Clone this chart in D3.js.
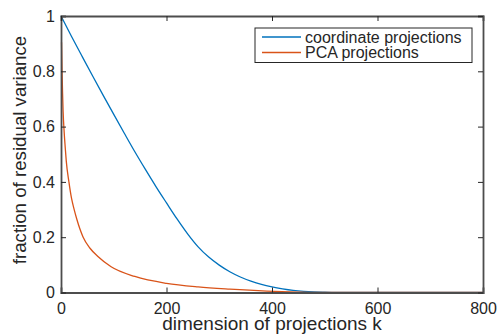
<!DOCTYPE html>
<html>
<head>
<meta charset="utf-8">
<script src="https://cdn.jsdelivr.net/npm/d3@7"></script>
<style>
  body { margin: 0; background: #fff; }
  text { font-family: "Liberation Sans", Arial, sans-serif; fill: #262626; }
</style>
</head>
<body>
<div id="chart"></div>
<script>
// dimension k and residual variance for each method
var coordK = [0, 20, 40, 60, 80, 100, 120, 140, 160, 180, 200, 220, 240, 260, 280, 300, 320, 340, 360, 380, 400, 420, 440, 460, 480, 500, 520, 540, 600, 700, 800];
var coordVar = [1.0, 0.926, 0.854, 0.783, 0.713, 0.644, 0.576, 0.509, 0.445, 0.383, 0.324, 0.266, 0.212, 0.165, 0.128, 0.099, 0.075, 0.056, 0.041, 0.029, 0.02, 0.013, 0.0075, 0.004, 0.002, 0.001, 0.0003, 0, 0, 0, 0];

var pcaK = [1, 2, 3, 4, 6, 8, 10, 15, 20, 25, 30, 42, 55, 70, 95, 140, 200, 260, 320, 390, 450, 500, 600, 700, 800];
var pcaVar = [0.905, 0.80, 0.72, 0.655, 0.58, 0.525, 0.475, 0.40, 0.34, 0.30, 0.265, 0.20, 0.16, 0.13, 0.093, 0.058, 0.033, 0.02, 0.012, 0.005, 0.0015, 0, 0, 0, 0];

var xTicks = [0, 200, 400, 600, 800];
var yTicks = [0, 0.2, 0.4, 0.6, 0.8, 1];
var seriesNames = ["coordinate projections", "PCA projections"];
var seriesColors = ["#0072BD", "#D95319"];

var svgWidth = 499, svgHeight = 334;
var margin = {top: 16, right: 16, bottom: 42, left: 61};
var width = 483 - margin.left;
var height = 292.5 - margin.top;

var svg = d3.select("#chart").append("svg")
  .attr("width", svgWidth)
  .attr("height", svgHeight);

var g = svg.append("g")
  .attr("transform", `translate(${margin.left}, ${margin.top})`);

var x = d3.scaleLinear().domain([0, 800]).range([0, width]);
var y = d3.scaleLinear().domain([0, 1]).range([height, 0]);

// curves
var line = d3.line()
  .x(d => x(d[0]))
  .y(d => y(d[1]))
  .curve(d3.curveMonotoneX);

var series = [
  d3.zip(coordK, coordVar),
  d3.zip(pcaK, pcaVar)
];

g.selectAll("path.curve")
  .data(series)
  .enter()
  .append("path")
  .attr("class", "curve")
  .attr("d", line)
  .attr("fill", "none")
  .attr("stroke", (d, i) => seriesColors[i])
  .attr("stroke-width", 1.3);

// axes, matlab style box with inward ticks
var axisColor = "#4d4d4d";
var fmt = d => d3.format("~g")(d);

var xAxisBottom = g.append("g")
  .attr("transform", `translate(0, ${height})`)
  .call(d3.axisBottom(x).tickValues(xTicks).tickSize(-5).tickPadding(10).tickFormat(fmt));
var yAxisLeft = g.append("g")
  .call(d3.axisLeft(y).tickValues(yTicks).tickSize(-5).tickPadding(6).tickFormat(fmt));
var xAxisTop = g.append("g")
  .call(d3.axisTop(x).tickValues(xTicks).tickSize(-5).tickFormat(""));
var yAxisRight = g.append("g")
  .attr("transform", `translate(${width}, 0)`)
  .call(d3.axisRight(y).tickValues(yTicks).tickSize(-5).tickFormat(""));

[xAxisBottom, yAxisLeft, xAxisTop, yAxisRight].forEach(function(a) {
  a.select(".domain").attr("stroke", axisColor).attr("stroke-width", 1.8);
  a.selectAll(".tick line").attr("stroke", "#262626").attr("stroke-width", 1);
  a.selectAll(".tick text")
    .style("font-size", "16px")
    .style("font-family", "Liberation Sans, Arial, sans-serif")
    .attr("fill", "#262626");
});

// axis labels
svg.append("text")
  .attr("x", margin.left + width / 2)
  .attr("y", 330)
  .attr("text-anchor", "middle")
  .style("font-size", "19px")
  .text("dimension of projections k");

svg.append("text")
  .attr("transform", "rotate(-90)")
  .attr("x", -150)
  .attr("y", 25.5)
  .attr("text-anchor", "middle")
  .style("font-size", "18.7px")
  .text("fraction of residual variance");

// legend
var legend = svg.append("g").attr("transform", "translate(255, 28)");
legend.append("rect")
  .attr("width", 217)
  .attr("height", 34.5)
  .attr("fill", "#fff")
  .attr("stroke", "#262626")
  .attr("stroke-width", 1);

seriesNames.forEach(function(name, i) {
  var row = legend.append("g").attr("transform", `translate(0, ${9 + i * 15.5})`);
  row.append("line")
    .attr("x1", 7).attr("x2", 46)
    .attr("stroke", seriesColors[i])
    .attr("stroke-width", 1.3);
  row.append("text")
    .attr("x", 50)
    .attr("dy", "0.35em")
    .style("font-size", "16px")
    .text(name);
});
</script>
</body>
</html>
